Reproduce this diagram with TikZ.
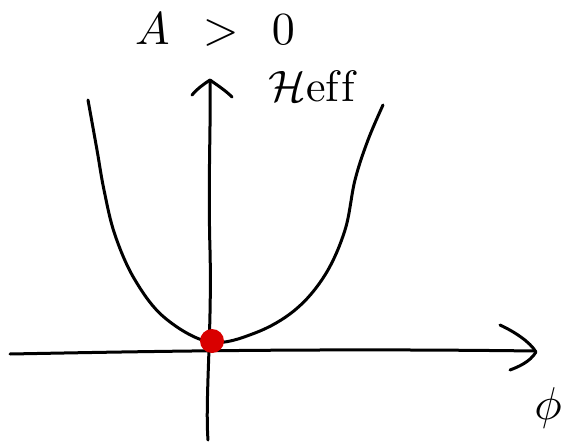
\documentclass[tikz,border=0pt]{standalone}
\usepackage{graphicx}
\usepackage{amsmath}
\tikzset{every picture/.style={line width=3pt}}
\begin{document}
\begin{tikzpicture}[
            x=1pt,
            y=1pt,
            yscale=-1,
            xscale=1,
            every node/.style={text=black},
            line cap=round,
            line join=round
        ]
            \useasboundingbox (0,0) rectangle (568,447);
            % axes
            \draw    (10,354) .. controls (120,352) and (300,348) .. (535,351) ;
            \draw    (500,325) .. controls (515,332) and (530,342) .. (536,352) .. controls (530,362) and (518,367) .. (510,370) ;
            \draw    (208,440) .. controls (205,400) and (212,330) .. (210,250) .. controls (208,180) and (211,120) .. (210,80) ;
            \draw    (192,95) .. controls (198,88) and (204,84) .. (210,80) .. controls (217,85) and (225,90) .. (232,97) ;
            % curve
            \draw plot [smooth, tension=0.6] coordinates {(88,100) (97,150) (104,190) (115,235) (135,280) (165,318) (210,342) (255,333) (295,310) (325,275) (345,230) (355,180) (368,140) (383,105)} ;
            % minimum
            \fill [red!85!black] (212,341) circle [radius=12];
            % labels
            \draw (215,30) node [inner sep=0.75pt] {\scalebox{4.6}{$A\;\,>\;\,0$}};
            \draw (312,86) node [inner sep=0.75pt] {\scalebox{4.4}{$\mathcal{H}$ef\kern0.5pt f}};
            \draw (548,408) node [inner sep=0.75pt] {\scalebox{4.6}{$\phi$}};
        \end{tikzpicture}
\end{document}
